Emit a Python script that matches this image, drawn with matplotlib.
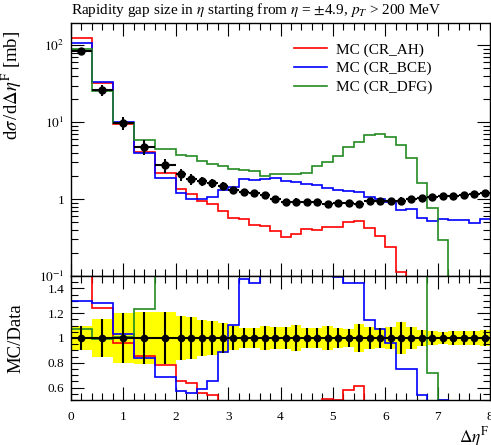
import numpy as np
import matplotlib
matplotlib.use('Agg')
import matplotlib.pyplot as plt
from matplotlib.ticker import FixedLocator, MultipleLocator, FuncFormatter, LogLocator, NullFormatter

plt.rcParams['font.family'] = ['Liberation Serif', 'DejaVu Serif']
plt.rcParams['mathtext.fontset'] = 'stix'

# bin edges of the rapidity gap histogram
edges = [0.0, 0.4, 0.8, 1.2, 1.6, 2.0, 2.2, 2.4, 2.6, 2.8, 3.0, 3.2, 3.4, 3.6, 3.8,
         4.0, 4.2, 4.4, 4.6, 4.8, 5.0, 5.2, 5.4, 5.6, 5.8, 6.0, 6.2, 6.4, 6.6, 6.8,
         7.0, 7.2, 7.4, 7.6, 7.8, 8.0]

# data [mb] and relative uncertainty
data = [83.6, 26.0, 9.8, 4.78, 2.76, 2.11, 1.82, 1.71, 1.60, 1.48, 1.31, 1.22, 1.21, 1.12, 1.0,
        0.92, 0.92, 0.91, 0.905, 0.87, 0.88, 0.88, 0.86, 0.94, 0.94, 0.95, 0.95, 0.99, 1.04, 1.07,
        1.09, 1.10, 1.13, 1.16, 1.19]
data_relerr = [0.093, 0.155, 0.20, 0.213, 0.21, 0.175, 0.168, 0.146, 0.14, 0.122, 0.10, 0.082,
               0.078, 0.096, 0.09, 0.09, 0.107, 0.08, 0.083, 0.10, 0.08, 0.075, 0.113, 0.09, 0.08,
               0.09, 0.13, 0.085, 0.067, 0.056, 0.05, 0.056, 0.056, 0.058, 0.067]

# MC predictions (0 = below the plotted range)
mc_ah = [126, 32.3, 9.44, 4.09, 2.16, 1.37, 1.16, 0.95, 0.87, 0.70, 0.57, 0.55, 0.46, 0.45, 0.39,
         0.32, 0.35, 0.41, 0.40, 0.44, 0.44, 0.51, 0.525, 0.42, 0.33, 0.24, 0.114, 0, 0, 0,
         0, 0, 0, 0, 0]
mc_bce = [108.7, 33.3, 10.1, 3.99, 1.89, 1.205, 1.01, 1.01, 1.05, 1.31, 1.45, 1.80, 1.75, 1.81, 1.86,
          1.73, 1.65, 1.57, 1.52, 1.38, 1.31, 1.27, 1.24, 1.08, 1.01, 0.91, 0.715, 0.745, 0.566, 0.518,
          0.545, 0.53, 0.53, 0.49, 0.55]
mc_dfg = [89.5, 25.7, 9.85, 5.9, 4.46, 3.80, 3.62, 3.12, 2.82, 2.68, 2.45, 2.38, 2.31, 2.01, 2.15,
          2.09, 2.15, 2.2, 2.71, 3.05, 3.65, 4.69, 5.55, 6.78, 6.98, 6.44, 5.03, 3.38, 1.6, 0.767,
          0.29, 0, 0, 0, 0]

labels = ['MC (CR_AH)', 'MC (CR_BCE)', 'MC (CR_DFG)']
colors = ['#ff0000', '#0000ff', '#228b22']

edges = np.array(edges)
data = np.array(data)
relerr = np.array(data_relerr)
centers = 0.5 * (edges[1:] + edges[:-1])
halfw = 0.5 * (edges[1:] - edges[:-1])

fig = plt.figure(figsize=(4.91, 4.45), dpi=100)
ax = fig.add_axes([0.1446, 0.3798, 0.8534, 0.5685])
rax = fig.add_axes([0.1446, 0.1011, 0.8534, 0.2787], sharex=ax)

for vals, lab, col in zip([mc_ah, mc_bce, mc_dfg], labels, colors):
    v = np.array(vals, dtype=float)
    v = np.where(v > 0, v, 1e-4)
    ax.stairs(v, edges, baseline=None, color=col, lw=1.2, label=lab, zorder=2)
    rax.stairs(v / data, edges, baseline=None, color=col, lw=1.2, zorder=2)

ax.errorbar(centers, data, xerr=halfw, yerr=data * relerr, fmt='o', color='black',
            ms=5, elinewidth=1.5, capsize=0, zorder=3)

rax.stairs(1 + relerr, edges, baseline=1 - relerr, fill=True, color='#ffff00', lw=0, zorder=1)
rax.errorbar(centers, np.ones_like(centers), xerr=halfw, yerr=relerr, fmt='o', color='black',
             ms=4.5, elinewidth=1.5, capsize=0, zorder=3)

ax.set_yscale('log')
ax.set_ylim(0.1, 195)
ax.set_xlim(0, 8)
rax.set_ylim(0.5, 1.5)

ax.yaxis.set_major_locator(FixedLocator([0.1, 1, 10, 100]))
ax.yaxis.set_major_formatter(FuncFormatter(
    lambda v, p: {0.1: r'$10^{-1}$', 1: '1', 10: r'$10^{1}$', 100: r'$10^{2}$'}.get(round(v, 3), '')))
ax.yaxis.set_minor_locator(LogLocator(base=10, subs=np.arange(2, 10)))
ax.yaxis.set_minor_formatter(NullFormatter())
ax.xaxis.set_major_locator(MultipleLocator(1))
ax.xaxis.set_minor_locator(MultipleLocator(0.2))
plt.setp(ax.get_xticklabels(), visible=False)

rax.yaxis.set_major_locator(FixedLocator([0.6, 0.8, 1.0, 1.2, 1.4]))
rax.yaxis.set_minor_locator(MultipleLocator(0.05))
rax.yaxis.set_major_formatter(FuncFormatter(lambda v, p: '%g' % round(v, 2)))

for a in (ax, rax):
    a.tick_params(which='both', direction='in', top=True, right=True, labelsize=9.5, pad=5)
    a.tick_params(which='major', length=9.5, width=0.8)
    a.tick_params(which='minor', length=4.7, width=0.8)
    for s in a.spines.values():
        s.set_linewidth(1.0)
rax.tick_params(axis='x', pad=8)

fig.text(0.1446, 0.9685, r'Rapidity gap size in $\eta$ starting from $\eta$ = $\pm$4.9, $p_T$ > 200 MeV',
         fontsize=11, ha='left', va='baseline')

ax.set_ylabel(r'd$\sigma\,$/d$\Delta\eta^{\mathrm{F}}$ [mb]', fontsize=13.5, loc='top')
ax.yaxis.set_label_coords(-0.112, 0.97)
rax.set_ylabel('MC/Data', fontsize=13.5)
rax.yaxis.set_label_coords(-0.112, 0.5)
rax.set_xlabel(r'$\Delta\eta^{\mathrm{F}}$', fontsize=12.5, loc='right', labelpad=1)

ax.legend(loc='upper left', bbox_to_anchor=(0.533, 0.922), frameon=False, fontsize=11,
          handlelength=2.16, handletextpad=0.57, labelspacing=0.32, borderpad=0, borderaxespad=0)

fig.savefig('out.png', dpi=100)
